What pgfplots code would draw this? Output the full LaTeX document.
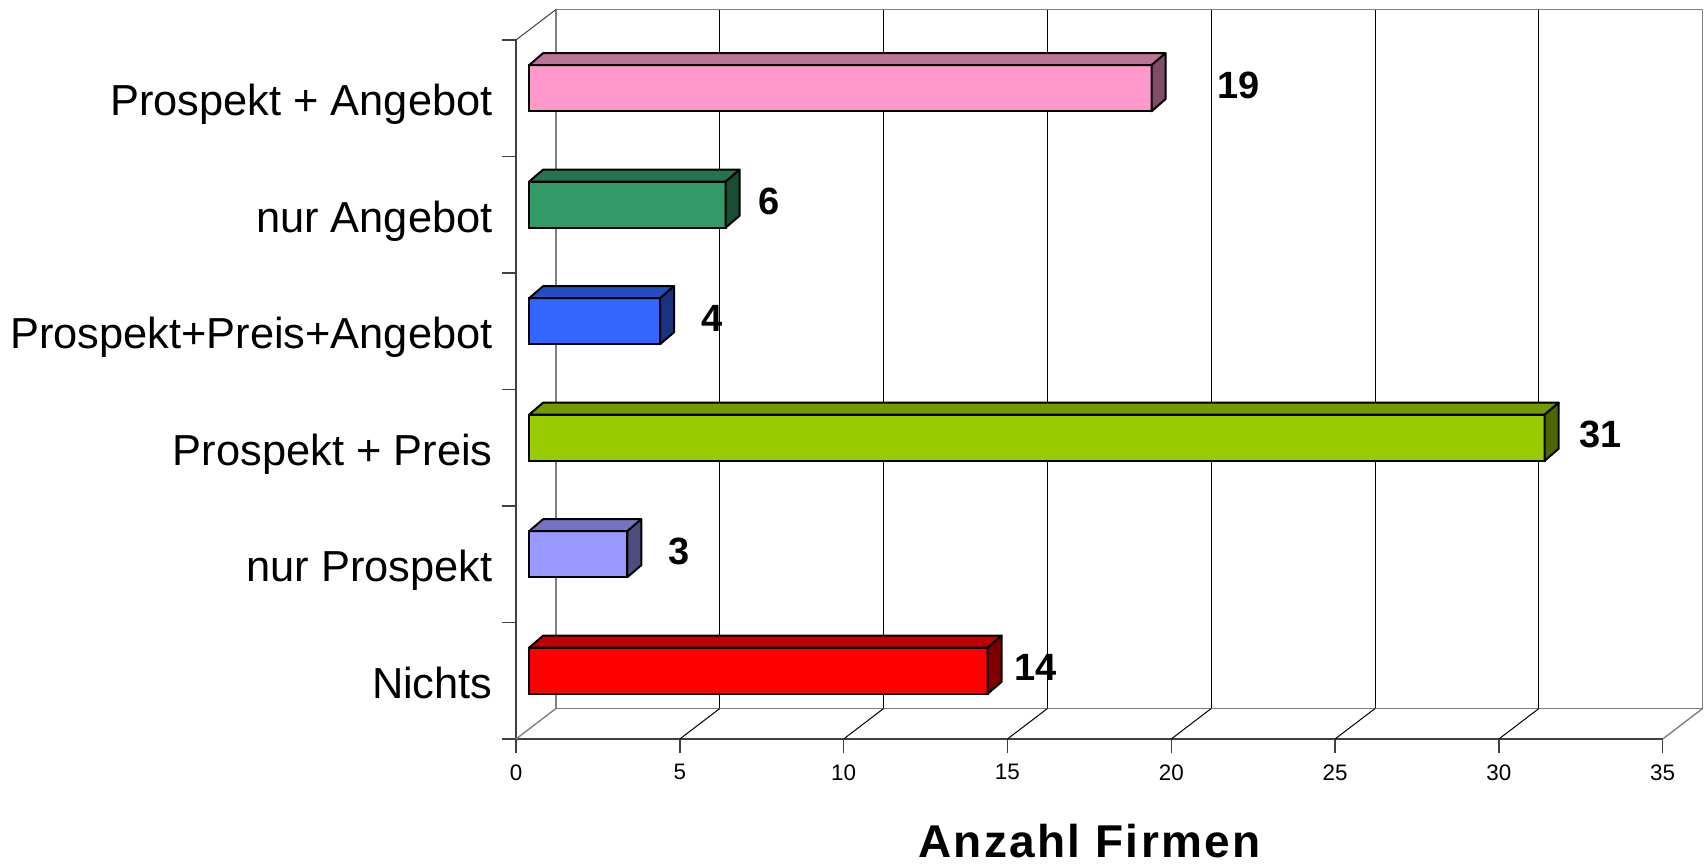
\documentclass[border=0pt]{standalone}
\usepackage{pgfplots}
\pgfplotsset{compat=1.18}
\usepackage{fontspec}
\setmainfont{Liberation Sans}
\newfontfamily\xlabfont[LetterSpace=5]{Liberation Sans}

\definecolor{pinkF}{HTML}{FF99CC}\definecolor{pinkT}{HTML}{BF7399}\definecolor{pinkS}{HTML}{804D66}
\definecolor{greenF}{HTML}{339966}\definecolor{greenT}{HTML}{267350}\definecolor{greenS}{HTML}{1A4D33}
\definecolor{blueF}{HTML}{3366FF}\definecolor{blueT}{HTML}{264DBF}\definecolor{blueS}{HTML}{1A3380}
\definecolor{limeF}{HTML}{99CC00}\definecolor{limeT}{HTML}{739900}\definecolor{limeS}{HTML}{4D6600}
\definecolor{lavF}{HTML}{9999FF}\definecolor{lavT}{HTML}{7373BF}\definecolor{lavS}{HTML}{4D4D80}
\definecolor{redF}{HTML}{FF0000}\definecolor{redT}{HTML}{BF0000}\definecolor{redS}{HTML}{800000}
\definecolor{wallgray}{HTML}{808080}

\pgfdeclareplotmark{nothing}{}

\pgfplotsset{
  common/.style={x=16.381428pt, y=58.25pt, xmin=0, xmax=35, ymin=0.5, ymax=6.5, anchor=south west},
  box3d/.style 2 args={
    scatter, only marks, mark=nothing,
    visualization depends on={value \thisrow{val} \as \barval},
    scatter/@pre marker code/.code={
      \filldraw[fill=#1, draw=black, line width=1pt, line join=round]
        ({-\barval*16.381428pt},11.5pt) -- (0pt,11.5pt) -- (7pt,17.5pt) -- ({-\barval*16.381428pt+7pt},17.5pt) -- cycle;
      \filldraw[fill=#2, draw=black, line width=1pt, line join=round]
        (0pt,-11.5pt) -- (0pt,11.5pt) -- (7pt,17.5pt) -- (7pt,-5.5pt) -- cycle;
    },
    scatter/@post marker code/.code={},
  },
  frontbar/.style={xbar, bar width=23pt, bar shift=0pt, fill=#1, draw=black, line width=1pt},
}

\begin{document}
\begin{tikzpicture}
\path[use as bounding box] (0,0) rectangle (852pt,431.5pt);

% back wall
\begin{axis}[common, at={(278pt,77.25pt)},
  xtick={5,10,...,30}, xticklabels={}, ytick=\empty, major tick length=0pt,
  xmajorgrids, grid style={black, line width=0.5pt},
  axis line style={wallgray, line width=0.7pt}]
\end{axis}

% front frame
\begin{axis}[common, at={(258pt,62pt)}, clip=false,
  axis x line*=bottom, axis y line*=left,
  axis line style={black!75, line width=0.7pt, -},
  xtick={0,5,...,35}, ytick={0.5,1.5,...,6.5}, yticklabels={},
  tick align=outside, major tick length=7pt,
  tick style={black!75, line width=0.7pt},
  /pgf/number format/assume math mode=true,
  xticklabel style={font=\fontsize{11.2}{13}\selectfont, anchor=north, inner sep=0pt, yshift=-5.5pt},
  yticklabel style={font=\fontsize{21.7}{25}\selectfont, anchor=base east, inner sep=0pt, xshift=-4.5pt, yshift=-8.8pt},
  extra y ticks={1,2,3,4,5,6},
  extra y tick labels={Nichts, nur Prospekt, Prospekt + Preis, Prospekt+Preis+Angebot, nur Angebot, Prospekt + Angebot},
  extra y tick style={tick style={draw=none}},
  xlabel={\xlabfont\bfseries Anzahl Firmen},
  xlabel style={at={(axis description cs:0.5,0)}, anchor=base, yshift=-59pt, inner sep=0pt, font=\fontsize{23}{26}\selectfont},
]
\pgfplotsinvokeforeach{5,10,...,30}{\draw[black, line width=0.5pt] (axis cs:#1,0.5) -- ++(20pt,15.25pt);}
\draw[wallgray, line width=0.7pt] (axis cs:0,0.5) -- ++(20pt,15.25pt);
\draw[wallgray, line width=0.7pt] (axis cs:35,0.5) -- ++(20pt,15.25pt);
\draw[black!75, line width=0.5pt] (axis cs:0,6.5) -- ++(20pt,15.25pt);
\end{axis}

% bars
\begin{axis}[common, at={(264.5pt,67pt)}, hide axis, clip=false]
\addplot[frontbar=pinkF] table[x=val, y=cat] {
val cat
19 6
};
\addplot[box3d={pinkT}{pinkS}] table[x=val, y=cat] {
val cat
19 6
};
\addplot[frontbar=greenF] table[x=val, y=cat] {
val cat
6 5
};
\addplot[box3d={greenT}{greenS}] table[x=val, y=cat] {
val cat
6 5
};
\addplot[frontbar=blueF] table[x=val, y=cat] {
val cat
4 4
};
\addplot[box3d={blueT}{blueS}] table[x=val, y=cat] {
val cat
4 4
};
\addplot[frontbar=limeF] table[x=val, y=cat] {
val cat
31 3
};
\addplot[box3d={limeT}{limeS}] table[x=val, y=cat] {
val cat
31 3
};
\addplot[frontbar=lavF] table[x=val, y=cat] {
val cat
3 2
};
\addplot[box3d={lavT}{lavS}] table[x=val, y=cat] {
val cat
3 2
};
\addplot[frontbar=redF] table[x=val, y=cat] {
val cat
14 1
};
\addplot[box3d={redT}{redS}] table[x=val, y=cat] {
val cat
14 1
};
\addplot[draw=none, mark=none, nodes near coords, point meta=explicit symbolic,
  every node near coord/.style={anchor=west, inner sep=0pt, yshift=1.5pt, text=black,
    font=\fontsize{19}{19}\selectfont\bfseries}]
  table[x=lx, y=cat, meta=lbl] {
lx cat lbl
21.0 6 19
7.0 5 6
5.25 4 4
32.05 3 31
4.25 2 3
14.8 1 14
};
\end{axis}
\end{tikzpicture}
\end{document}
